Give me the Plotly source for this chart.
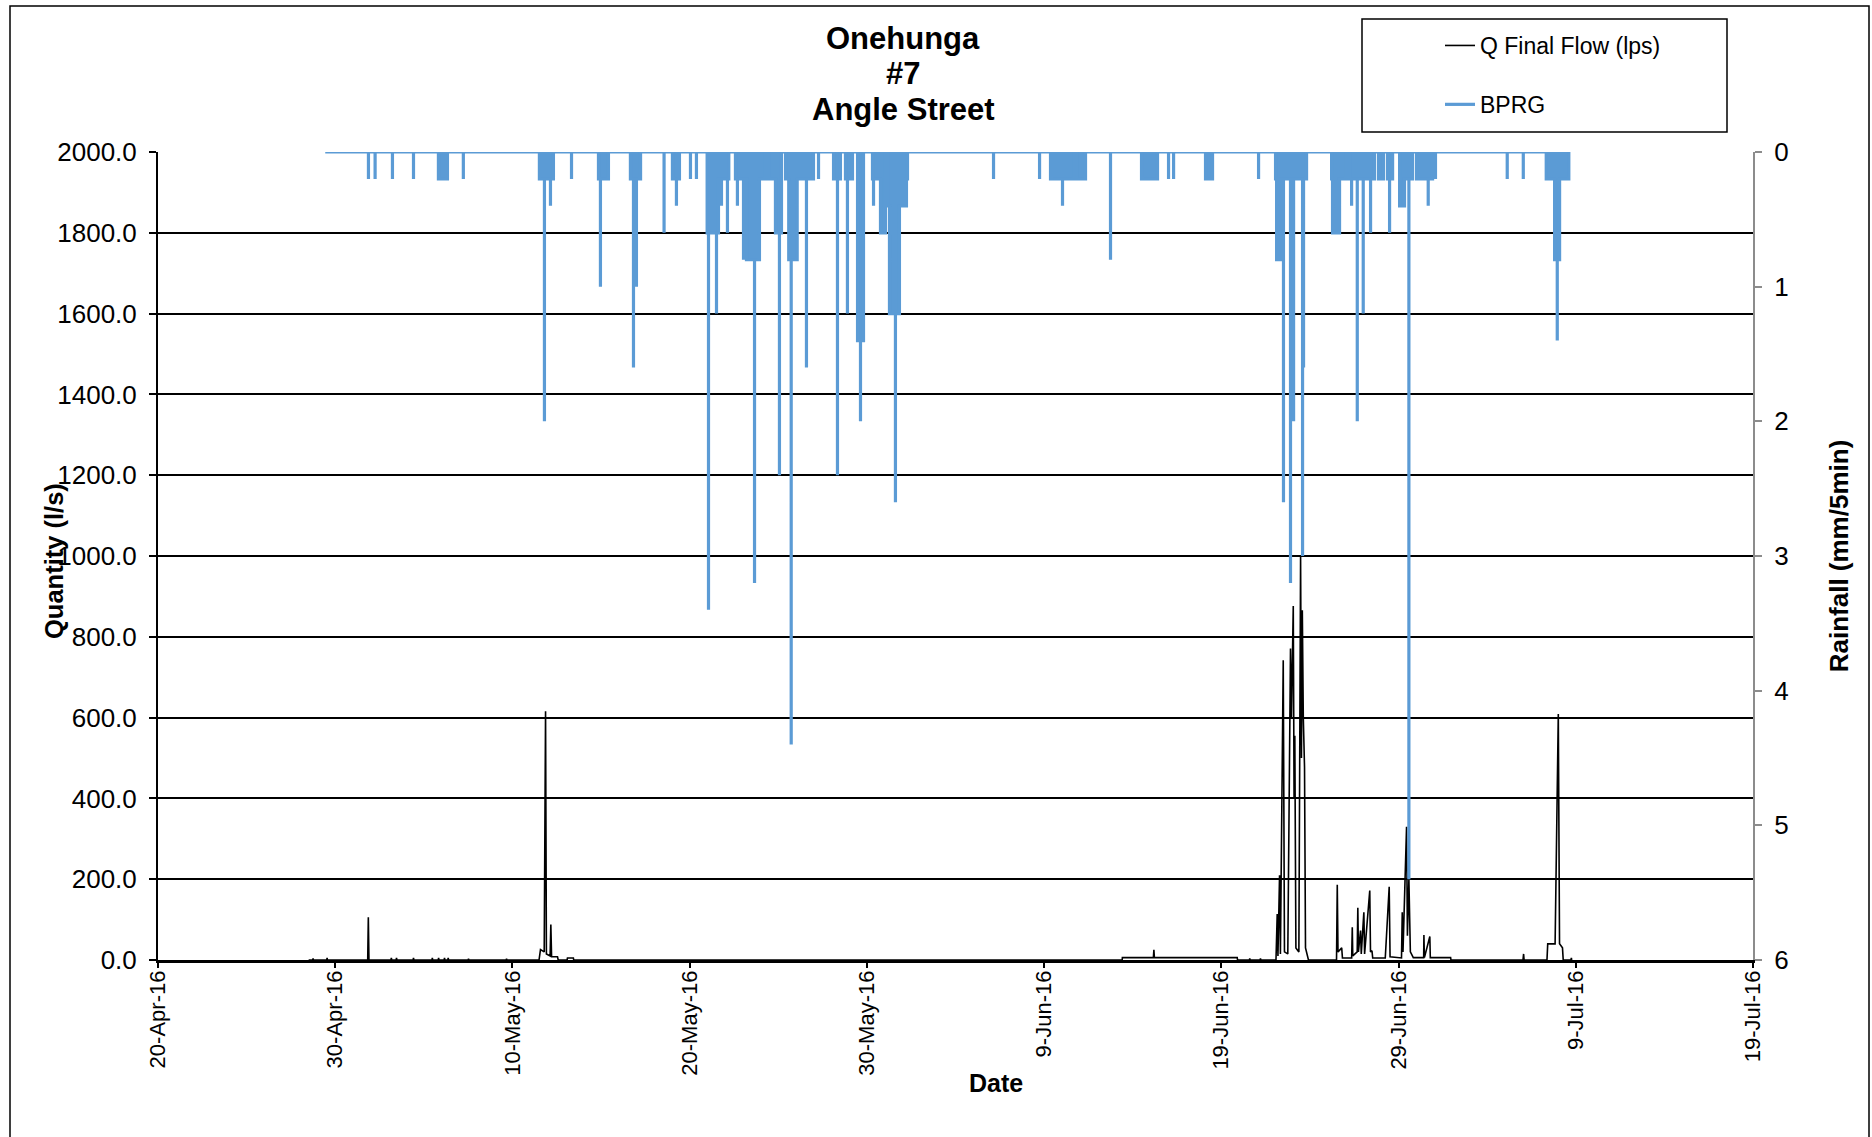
import plotly.graph_objects as go

# ---------------- data ----------------
flow_time = [
    "2016-04-28 12:00",
    "2016-04-28 17:30", "2016-04-28 18:00", "2016-04-28 18:30",
    "2016-04-29 12:30", "2016-04-29 13:00", "2016-04-29 13:30",
    "2016-05-01 20:00", "2016-05-01 20:50", "2016-05-01 21:40",
    "2016-05-03 03:30", "2016-05-03 04:00", "2016-05-03 04:30",
    "2016-05-03 10:30", "2016-05-03 11:00", "2016-05-03 11:30",
    "2016-05-04 09:30", "2016-05-04 10:00", "2016-05-04 10:30",
    "2016-05-05 11:00", "2016-05-05 11:30", "2016-05-05 12:00",
    "2016-05-05 19:30", "2016-05-05 20:00", "2016-05-05 20:30",
    "2016-05-06 03:30", "2016-05-06 04:00", "2016-05-06 04:30",
    "2016-05-06 08:30", "2016-05-06 09:00", "2016-05-06 09:30",
    "2016-05-07 12:00", "2016-05-07 12:30", "2016-05-07 13:00",
    "2016-05-09 15:30", "2016-05-09 16:00", "2016-05-09 16:30",
    "2016-05-11 12:00", "2016-05-11 14:00", "2016-05-11 19:00", "2016-05-11 20:50",
    "2016-05-11 22:00", "2016-05-12 03:00", "2016-05-12 04:00", "2016-05-12 05:00",
    "2016-05-12 13:00", "2016-05-12 14:00",
    "2016-05-13 02:00", "2016-05-13 02:30", "2016-05-13 10:30", "2016-05-13 11:00",
    "2016-06-13 09:45", "2016-06-13 10:00", "2016-06-15 04:00", "2016-06-15 04:40",
    "2016-06-15 05:20", "2016-06-19 21:30", "2016-06-19 22:00",
    "2016-06-20 14:00", "2016-06-20 14:30", "2016-06-20 15:00",
    "2016-06-21 04:30", "2016-06-21 05:00", "2016-06-21 05:30",
    "2016-06-22 02:00", "2016-06-22 03:40", "2016-06-22 04:40", "2016-06-22 06:50",
    "2016-06-22 08:00", "2016-06-22 11:50", "2016-06-22 13:30", "2016-06-22 18:00",
    "2016-06-22 21:40", "2016-06-22 23:00", "2016-06-23 01:25", "2016-06-23 02:30",
    "2016-06-23 03:30", "2016-06-23 05:00", "2016-06-23 09:00", "2016-06-23 11:20",
    "2016-06-23 12:30", "2016-06-23 13:40", "2016-06-23 15:00", "2016-06-23 16:40",
    "2016-06-23 18:00", "2016-06-23 20:00", "2016-06-23 22:00",
    "2016-06-25 12:00", "2016-06-25 13:00", "2016-06-25 14:00", "2016-06-25 19:00",
    "2016-06-25 20:00", "2016-06-26 08:30", "2016-06-26 09:20", "2016-06-26 10:00",
    "2016-06-26 16:00", "2016-06-26 16:50", "2016-06-26 17:40", "2016-06-26 20:30",
    "2016-06-26 21:30", "2016-06-27 01:00", "2016-06-27 02:00", "2016-06-27 09:00",
    "2016-06-27 10:00", "2016-06-27 12:00", "2016-06-27 13:00", "2016-06-28 06:00",
    "2016-06-28 11:20", "2016-06-28 12:30", "2016-06-29 04:00", "2016-06-29 05:00",
    "2016-06-29 06:00", "2016-06-29 10:50", "2016-06-29 12:00", "2016-06-29 14:00",
    "2016-06-29 16:00", "2016-06-29 20:00", "2016-06-30 10:00", "2016-06-30 10:20",
    "2016-06-30 11:00", "2016-06-30 18:20", "2016-06-30 19:00", "2016-07-01 22:30",
    "2016-07-01 23:00",
    "2016-07-06 00:30", "2016-07-06 01:20", "2016-07-06 02:00",
    "2016-07-07 09:00", "2016-07-07 10:00", "2016-07-07 20:00", "2016-07-08 00:20",
    "2016-07-08 02:00", "2016-07-08 06:00", "2016-07-08 07:00",
    "2016-07-08 17:30", "2016-07-08 18:00", "2016-07-08 18:30",
]
flow_lps = [
    0,
    0, 4, 0,
    0, 5, 0,
    0, 106, 0,
    0, 5, 0,
    0, 5, 0,
    0, 5, 0,
    0, 5, 0,
    0, 5, 0,
    0, 5, 0,
    0, 5, 0,
    0, 3, 0,
    0, 3, 0,
    0, 26, 20, 616,
    15, 10, 88, 8,
    8, 0,
    0, 5, 5, 0,
    0, 6, 6, 25,
    6, 6, 0,
    0, 4, 0,
    0, 4, 0,
    0, 114, 10, 210,
    15, 742, 20, 15,
    771, 600, 876, 400,
    555, 30, 20, 1000,
    500, 866, 600, 477,
    30, 10, 0,
    0, 186, 20, 30,
    5, 5, 81, 10,
    20, 129, 20, 73,
    15, 118, 15, 172,
    20, 23, 5, 5,
    181, 8, 5, 118,
    20, 330, 60, 199,
    20, 6, 6, 62,
    6, 58, 6, 6,
    0,
    0, 15, 0,
    0, 40, 40, 609,
    40, 30, 0,
    0, 5, 0,
]

rain_time = [
    "2016-04-29 10:30",
    "2016-05-01 21:00", "2016-05-01 21:00", "2016-05-01 21:00",
    "2016-05-02 06:00", "2016-05-02 06:00", "2016-05-02 06:00",
    "2016-05-03 05:30", "2016-05-03 05:30", "2016-05-03 05:30",
    "2016-05-04 10:00", "2016-05-04 10:00", "2016-05-04 10:00",
    "2016-05-05 19:45", "2016-05-05 19:45", "2016-05-06 08:00", "2016-05-06 08:00",
    "2016-05-07 05:30", "2016-05-07 05:30", "2016-05-07 05:30",
    "2016-05-11 12:30", "2016-05-11 12:30", "2016-05-11 19:20", "2016-05-11 19:20", "2016-05-11 19:20",
    "2016-05-12 03:30", "2016-05-12 03:30", "2016-05-12 03:30", "2016-05-12 07:30", "2016-05-12 07:30",
    "2016-05-13 08:00", "2016-05-13 08:00", "2016-05-13 08:00",
    "2016-05-14 20:30", "2016-05-14 20:30", "2016-05-14 23:10", "2016-05-14 23:10", "2016-05-14 23:10",
    "2016-05-15 10:00", "2016-05-15 10:00",
    "2016-05-16 15:45", "2016-05-16 15:45", "2016-05-16 19:55", "2016-05-16 19:55", "2016-05-16 19:55",
    "2016-05-16 23:55", "2016-05-16 23:55", "2016-05-16 23:55", "2016-05-17 05:30", "2016-05-17 05:30",
    "2016-05-18 13:20", "2016-05-18 13:20", "2016-05-18 13:20",
    "2016-05-19 00:40", "2016-05-19 00:40", "2016-05-19 06:05", "2016-05-19 06:05", "2016-05-19 06:05",
    "2016-05-19 10:10", "2016-05-19 10:10",
    "2016-05-20 01:05", "2016-05-20 01:05", "2016-05-20 01:05",
    "2016-05-20 09:10", "2016-05-20 09:10", "2016-05-20 09:10",
    "2016-05-20 23:40", "2016-05-20 23:40", "2016-05-21 01:30", "2016-05-21 01:30", "2016-05-21 01:30",
    "2016-05-21 12:20", "2016-05-21 12:20", "2016-05-21 12:20", "2016-05-21 15:00", "2016-05-21 15:00",
    "2016-05-21 19:05", "2016-05-21 19:05", "2016-05-21 19:05", "2016-05-22 03:10", "2016-05-22 03:10",
    "2016-05-22 03:10", "2016-05-22 05:00", "2016-05-22 05:00",
    "2016-05-22 14:00", "2016-05-22 14:00", "2016-05-22 16:40", "2016-05-22 16:40", "2016-05-22 16:40",
    "2016-05-23 00:55", "2016-05-23 00:55", "2016-05-23 00:55", "2016-05-23 04:55", "2016-05-23 04:55",
    "2016-05-23 15:50", "2016-05-23 15:50", "2016-05-23 15:50", "2016-05-23 22:30", "2016-05-23 22:30",
    "2016-05-24 06:40", "2016-05-24 06:40",
    "2016-05-24 10:40", "2016-05-24 10:40", "2016-05-24 20:10", "2016-05-24 20:10", "2016-05-25 01:35",
    "2016-05-25 01:35", "2016-05-25 01:35", "2016-05-25 04:20", "2016-05-25 04:20",
    "2016-05-25 09:50", "2016-05-25 09:50", "2016-05-25 14:10", "2016-05-25 14:10", "2016-05-25 17:30",
    "2016-05-25 17:30", "2016-05-25 17:30", "2016-05-26 01:35", "2016-05-26 01:35", "2016-05-26 14:10",
    "2016-05-26 14:10", "2016-05-26 14:10", "2016-05-26 23:40", "2016-05-26 23:40",
    "2016-05-27 06:30", "2016-05-27 06:30", "2016-05-27 06:30",
    "2016-05-28 02:50", "2016-05-28 02:50", "2016-05-28 08:10", "2016-05-28 08:10", "2016-05-28 08:10",
    "2016-05-28 12:10", "2016-05-28 12:10",
    "2016-05-28 19:00", "2016-05-28 19:00", "2016-05-28 21:40", "2016-05-28 21:40", "2016-05-28 21:40",
    "2016-05-29 04:30", "2016-05-29 04:30",
    "2016-05-29 11:20", "2016-05-29 11:20", "2016-05-29 15:20", "2016-05-29 15:20", "2016-05-29 15:20",
    "2016-05-29 19:25", "2016-05-29 19:25",
    "2016-05-30 07:35", "2016-05-30 07:35", "2016-05-30 09:00", "2016-05-30 09:00", "2016-05-30 09:00",
    "2016-05-30 18:25", "2016-05-30 18:25", "2016-05-31 01:10", "2016-05-31 01:10",
    "2016-05-31 03:55", "2016-05-31 03:55", "2016-05-31 06:35", "2016-05-31 06:35", "2016-05-31 14:40",
    "2016-05-31 14:40", "2016-05-31 14:40", "2016-05-31 20:05", "2016-05-31 20:05", "2016-06-01 05:35",
    "2016-06-01 05:35", "2016-06-01 07:00", "2016-06-01 07:00",
    "2016-06-06 03:30", "2016-06-06 03:30", "2016-06-06 03:30",
    "2016-06-08 17:50", "2016-06-08 17:50", "2016-06-08 17:50",
    "2016-06-09 08:40", "2016-06-09 08:40", "2016-06-10 00:55", "2016-06-10 00:55", "2016-06-10 00:55",
    "2016-06-10 17:10", "2016-06-10 17:10",
    "2016-06-10 19:55", "2016-06-10 19:55", "2016-06-11 08:05", "2016-06-11 08:05",
    "2016-06-12 17:55", "2016-06-12 17:55", "2016-06-12 17:55",
    "2016-06-14 11:55", "2016-06-14 11:55", "2016-06-15 09:35", "2016-06-15 09:35",
    "2016-06-16 00:30", "2016-06-16 00:30", "2016-06-16 00:30",
    "2016-06-16 07:20", "2016-06-16 07:20", "2016-06-16 07:20",
    "2016-06-18 02:35", "2016-06-18 02:35", "2016-06-18 12:05", "2016-06-18 12:05",
    "2016-06-21 02:25", "2016-06-21 02:25", "2016-06-21 02:25",
    "2016-06-22 01:25", "2016-06-22 01:25", "2016-06-22 02:50", "2016-06-22 02:50", "2016-06-22 08:10",
    "2016-06-22 08:10", "2016-06-22 12:10", "2016-06-22 12:10", "2016-06-22 12:10", "2016-06-22 21:40",
    "2016-06-22 21:40", "2016-06-22 21:40", "2016-06-23 01:50", "2016-06-23 01:50", "2016-06-23 01:50",
    "2016-06-23 14:00", "2016-06-23 14:00", "2016-06-23 14:00", "2016-06-23 15:20", "2016-06-23 15:20",
    "2016-06-23 15:20", "2016-06-23 19:25", "2016-06-23 19:25",
    "2016-06-25 05:20", "2016-06-25 05:20", "2016-06-25 06:35", "2016-06-25 06:35", "2016-06-25 16:05",
    "2016-06-25 16:05", "2016-06-26 01:35", "2016-06-26 01:35",
    "2016-06-26 05:40", "2016-06-26 05:40", "2016-06-26 08:25", "2016-06-26 08:25", "2016-06-26 08:25",
    "2016-06-26 16:05", "2016-06-26 16:05", "2016-06-26 16:05", "2016-06-27 00:10", "2016-06-27 00:10",
    "2016-06-27 00:10", "2016-06-27 10:05", "2016-06-27 10:05", "2016-06-27 10:05", "2016-06-27 15:30",
    "2016-06-27 15:30",
    "2016-06-27 20:55", "2016-06-27 20:55", "2016-06-28 03:40", "2016-06-28 03:40",
    "2016-06-28 09:05", "2016-06-28 09:05", "2016-06-28 11:50", "2016-06-28 11:50", "2016-06-28 11:50",
    "2016-06-28 15:55", "2016-06-28 15:55",
    "2016-06-29 01:25", "2016-06-29 01:25", "2016-06-29 08:05", "2016-06-29 08:05", "2016-06-29 14:00",
    "2016-06-29 14:00", "2016-06-29 14:00", "2016-06-29 19:00", "2016-06-29 19:00",
    "2016-06-30 00:25", "2016-06-30 00:25", "2016-06-30 16:10", "2016-06-30 16:10", "2016-06-30 16:10",
    "2016-06-30 22:05", "2016-06-30 22:05",
    "2016-07-01 02:00", "2016-07-01 02:00", "2016-07-01 02:00",
    "2016-07-05 03:10", "2016-07-05 03:10", "2016-07-05 03:10",
    "2016-07-06 00:55", "2016-07-06 00:55", "2016-07-06 00:55",
    "2016-07-07 08:00", "2016-07-07 08:00", "2016-07-07 19:20", "2016-07-07 19:20", "2016-07-07 22:55",
    "2016-07-07 22:55", "2016-07-07 22:55", "2016-07-08 02:05", "2016-07-08 02:05", "2016-07-08 14:35",
    "2016-07-08 14:35",
]
rain_mm = [
    0,
    0, 0.2, 0,
    0, 0.2, 0,
    0, 0.2, 0,
    0, 0.2, 0,
    0, 0.2, 0.2, 0,
    0, 0.2, 0,
    0, 0.2, 0.2, 2.0, 0.2,
    0.2, 0.4, 0.2, 0.2, 0,
    0, 0.2, 0,
    0, 0.2, 0.2, 1.0, 0.2,
    0.2, 0,
    0, 0.2, 0.2, 1.6, 0.2,
    0.2, 1.0, 0.2, 0.2, 0,
    0, 0.6, 0,
    0, 0.2, 0.2, 0.4, 0.2,
    0.2, 0,
    0, 0.2, 0,
    0, 0.2, 0,
    0, 0.6, 0.6, 3.4, 0.6,
    0.6, 1.2, 0.6, 0.6, 0.2,
    0.2, 0.4, 0.2, 0.2, 0.6,
    0.2, 0.2, 0,
    0, 0.2, 0.2, 0.4, 0.2,
    0.2, 0.8, 0.2, 0.2, 0.8,
    0.8, 3.2, 0.8, 0.8, 0.2,
    0.2, 0,
    0, 0.2, 0.2, 0.6, 0.6,
    2.4, 0.6, 0.6, 0,
    0, 0.2, 0.2, 0.8, 0.8,
    4.4, 0.8, 0.8, 0.2, 0.2,
    1.6, 0.2, 0.2, 0,
    0, 0.2, 0,
    0, 0.2, 0.2, 2.4, 0.2,
    0.2, 0,
    0, 0.2, 0.2, 1.2, 0.2,
    0.2, 0,
    0, 1.4, 1.4, 2.0, 1.4,
    1.4, 0,
    0, 0.2, 0.2, 0.4, 0.2,
    0.2, 0.6, 0.6, 0,
    0, 0.4, 0.4, 1.2, 1.2,
    2.6, 1.2, 1.2, 0.4, 0.4,
    0.2, 0.2, 0,
    0, 0.2, 0,
    0, 0.2, 0,
    0, 0.2, 0.2, 0.4, 0.2,
    0.2, 0,
    0, 0.2, 0.2, 0,
    0, 0.8, 0,
    0, 0.2, 0.2, 0,
    0, 0.2, 0,
    0, 0.2, 0,
    0, 0.2, 0.2, 0,
    0, 0.2, 0,
    0, 0.2, 0.2, 0.8, 0.8,
    0.2, 0.2, 2.6, 0.2, 0.2,
    3.2, 0.2, 0.2, 2.0, 0.2,
    0.2, 3.0, 0.2, 0.2, 1.6,
    0.2, 0.2, 0,
    0, 0.2, 0.2, 0.6, 0.6,
    0.2, 0.2, 0,
    0, 0.2, 0.2, 0.4, 0.2,
    0.2, 2.0, 0.2, 0.2, 1.2,
    0.2, 0.2, 0.6, 0.2, 0.2,
    0,
    0, 0.2, 0.2, 0,
    0, 0.2, 0.2, 0.6, 0.2,
    0.2, 0,
    0, 0.4, 0.4, 0.2, 0.2,
    5.4, 0.2, 0.2, 0,
    0, 0.2, 0.2, 0.4, 0.2,
    0.2, 0,
    0, 0.2, 0,
    0, 0.2, 0,
    0, 0.2, 0,
    0, 0.2, 0.2, 0.8, 0.8,
    1.4, 0.8, 0.8, 0.2, 0.2,
    0,
]
assert len(flow_time) == len(flow_lps), (len(flow_time), len(flow_lps))
assert len(rain_time) == len(rain_mm), (len(rain_time), len(rain_mm))

title_lines = ["Onehunga", "#7", "Angle Street"]
series_names = ["Q Final Flow (lps)", "BPRG"]
x_start, x_end = "2016-04-20", "2016-07-19"
flow_range = [0, 2000]
rain_range = [6, 0]

# ---------------- figure ----------------
FONT = "Liberation Sans, Arial, sans-serif"
BLUE = "#5B9BD5"

fig = go.Figure()
fig.add_trace(go.Scatter(
    x=flow_time, y=flow_lps, name=series_names[0], mode="lines",
    line=dict(color="black", width=1.6), legendgroup="a", yaxis="y",
))
# filled body of the rainfall bursts (same data, no legend entry)
fig.add_trace(go.Scatter(
    x=rain_time, y=rain_mm, name=series_names[1], mode="lines",
    line=dict(color=BLUE, width=0), fill="tozeroy", fillcolor=BLUE,
    legendgroup="b", showlegend=False, hoverinfo="skip", yaxis="y2",
))
fig.add_trace(go.Scatter(
    x=rain_time, y=rain_mm, name=series_names[1], mode="lines",
    line=dict(color=BLUE, width=3.2), legendgroup="b", yaxis="y2",
))

W, H = 1872, 1137
L, R, T, B = 158, 119, 152, 177
pw, ph = W - L - R, H - T - B


def px_x(x):
    return (x - L) / pw


def px_y(y):
    return (H - B - y) / ph


fig.update_layout(
    width=W, height=H,
    margin=dict(l=L, r=R, t=T, b=B, autoexpand=False),
    paper_bgcolor="white", plot_bgcolor="white",
    font=dict(family=FONT, color="black", size=22),
    showlegend=True,
    legend=dict(
        x=px_x(1440), xanchor="left",
        y=px_y(24), yanchor="top",
        bgcolor="rgba(0,0,0,0)", borderwidth=0,
        font=dict(family=FONT, size=23, color="black"),
        traceorder="grouped", tracegroupgap=26,
    ),
    xaxis=dict(
        type="date", range=[x_start, x_end],
        tick0=x_start, dtick=10 * 24 * 3600 * 1000, tickformat="%-d-%b-%y",
        tickangle=-90, ticks="outside", ticklen=5, tickwidth=1.5, tickcolor="black",
        ticklabelstandoff=-6,
        showline=True, linecolor="black", linewidth=2.5,
        showgrid=False, zeroline=False,
        tickfont=dict(family=FONT, size=22, color="black"),
    ),
    yaxis=dict(
        range=flow_range, dtick=200, tickformat=".1f",
        showgrid=True, gridcolor="black", gridwidth=1.8,
        showline=True, linecolor="black", linewidth=2,
        ticks="outside", ticklen=7, tickwidth=1.5, tickcolor="black",
        ticklabelstandoff=7,
        zeroline=False,
        tickfont=dict(family=FONT, size=26, color="black"),
    ),
    yaxis2=dict(
        overlaying="y", side="right", range=rain_range, dtick=1,
        showgrid=False, zeroline=False,
        showline=True, linecolor="#8c8c8c", linewidth=2,
        ticks="outside", ticklen=7, tickwidth=1.5, tickcolor="#8c8c8c",
        ticklabelstandoff=7,
        tickfont=dict(family=FONT, size=26, color="black"),
        title=dict(text="<b>Rainfall (mm/5min)</b>", font=dict(family=FONT, size=26), standoff=42),
    ),
)

# chart title (three centred lines)
for line, yc in zip(title_lines, [38, 74, 110]):
    fig.add_annotation(
        text="<b>" + line + "</b>", xref="paper", yref="paper",
        x=px_x(903), y=px_y(yc), xanchor="center", yanchor="middle",
        showarrow=False, font=dict(family=FONT, size=31, color="black"),
    )

# left axis title (overlaps the tick labels slightly, as in the original)
fig.add_annotation(
    text="<b>Quantity (l/s)</b>", xref="paper", yref="paper",
    x=px_x(54), y=px_y(561), xanchor="center", yanchor="middle", textangle=-90,
    showarrow=False, font=dict(family=FONT, size=25.5, color="black"),
)

# x-axis title
fig.add_annotation(
    text="<b>Date</b>", xref="paper", yref="paper",
    x=px_x(996), y=px_y(1083), xanchor="center", yanchor="middle",
    showarrow=False, font=dict(family=FONT, size=25, color="black"),
)

# legend frame and outer chart frame
fig.add_shape(type="rect", xref="paper", yref="paper",
              x0=px_x(1362), x1=px_x(1727), y0=px_y(132), y1=px_y(19),
              line=dict(color="black", width=1.5), fillcolor="rgba(0,0,0,0)", layer="above")
fig.add_shape(type="rect", xref="paper", yref="paper",
              x0=px_x(10), x1=px_x(1869), y0=px_y(1150), y1=px_y(6),
              line=dict(color="black", width=1.5), fillcolor="rgba(0,0,0,0)", layer="below")

fig.write_html("out.html")
